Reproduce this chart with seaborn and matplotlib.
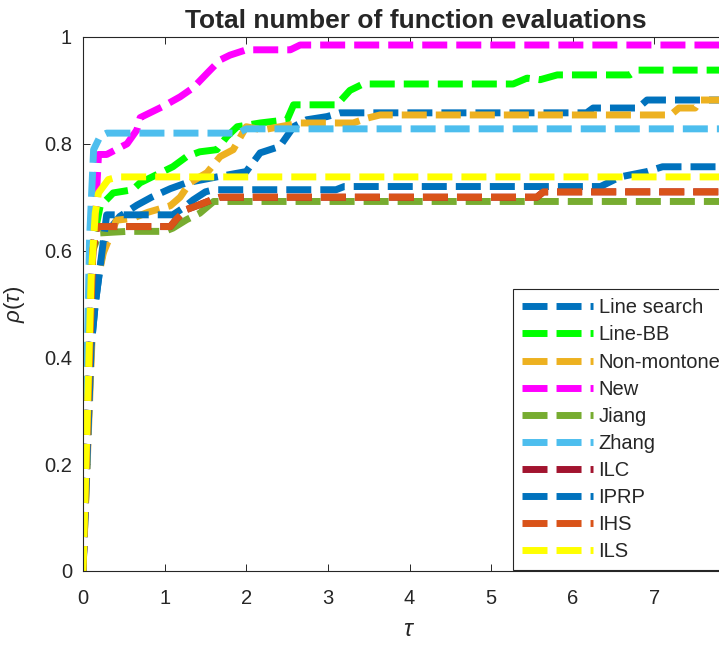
import matplotlib
matplotlib.use("Agg")
import matplotlib.pyplot as plt
import pandas as pd
import seaborn as sns

# performance-profile data
labels = ["Line search", "Line-BB", "Non-montone", "New", "Jiang",
          "Zhang", "ILC", "IPRP", "IHS", "ILS"]
colors = ["#0072BD", "#00FF00", "#EDB120", "#FF00FF", "#77AC30",
          "#4DBEEE", "#A2142F", "#0072BD", "#D95319", "#FFFF00"]

tau_line_search = [0, 0.1, 0.15, 0.21, 0.29, 0.45, 0.66, 0.84, 1.07, 1.27, 1.64, 2.0,
                   2.17, 2.41, 2.58, 2.74, 2.99, 3.15, 6.17, 6.25, 6.8, 6.91, 8]
rho_line_search = [0, 0.42, 0.5, 0.57, 0.633, 0.664, 0.685, 0.70, 0.716, 0.727, 0.738, 0.748,
                   0.783, 0.795, 0.832, 0.845, 0.851, 0.858, 0.858, 0.867, 0.867, 0.882, 0.882]

tau_line_bb = [0, 0.1, 0.21, 0.37, 0.61, 0.7, 0.94, 1.1, 1.27, 1.43, 1.64, 1.76, 1.89,
               2.17, 2.5, 2.58, 3.11, 3.27, 3.43, 5.27, 5.44, 5.6, 5.81, 6.7, 6.79, 8]
rho_line_bb = [0, 0.6, 0.683, 0.708, 0.714, 0.727, 0.745, 0.757, 0.776, 0.785, 0.789, 0.813, 0.832,
               0.839, 0.845, 0.873, 0.873, 0.9, 0.912, 0.912, 0.923, 0.92, 0.929, 0.929, 0.938, 0.938]

tau_non_monotone = [0, 0.13, 0.25, 0.33, 0.41, 0.6, 0.8, 1.07, 1.19, 1.31, 1.52, 1.68, 1.84,
                    2.0, 2.2, 2.66, 3.31, 3.48, 3.64, 7.2, 7.3, 7.5, 7.56, 8]
rho_non_monotone = [0, 0.51, 0.596, 0.626, 0.657, 0.66, 0.672, 0.684, 0.70, 0.727, 0.746, 0.776, 0.789,
                    0.832, 0.826, 0.839, 0.839, 0.848, 0.854, 0.854, 0.867, 0.867, 0.882, 0.882]

tau_new = [0, 0.12, 0.17, 0.19, 0.29, 0.54, 0.66, 0.70, 0.98, 1.19, 1.35, 1.52, 1.68,
           1.8, 2.0, 2.54, 2.66, 8]
rho_new = [0, 0.6, 0.72, 0.78, 0.78, 0.80, 0.826, 0.849, 0.87, 0.888, 0.905, 0.932, 0.957,
           0.966, 0.976, 0.976, 0.985, 0.985]

tau_jiang = [0, 0.12, 0.2, 0.54, 1.0, 1.1, 1.27, 1.43, 1.6, 8]
rho_jiang = [0, 0.6, 0.633, 0.636, 0.636, 0.642, 0.658, 0.67, 0.692, 0.692]

tau_zhang = [0, 0.08, 0.13, 0.21, 0.29, 1.9, 2.0, 8]
rho_zhang = [0, 0.62, 0.789, 0.814, 0.82, 0.82, 0.828, 0.828]

tau_ilc = [0, 0.12, 0.17, 1.07, 1.15, 1.27, 1.43, 1.56, 1.68, 5.56, 5.64, 8]
rho_ilc = [0, 0.6, 0.645, 0.645, 0.66, 0.677, 0.686, 0.694, 0.70, 0.70, 0.71, 0.71]

tau_iprp = [0, 0.1, 0.15, 0.21, 0.29, 1.1, 1.23, 1.35, 1.5, 1.6, 3.1, 3.2,
            6.34, 6.58, 6.91, 7.1, 8]
rho_iprp = [0, 0.42, 0.5, 0.57, 0.667, 0.667, 0.68, 0.695, 0.71, 0.714, 0.714, 0.72,
            0.72, 0.738, 0.748, 0.757, 0.757]

tau_ihs = [0, 0.12, 0.17, 1.07, 1.15, 1.27, 1.43, 1.56, 1.68, 5.56, 5.64, 8]
rho_ihs = [0, 0.6, 0.645, 0.645, 0.66, 0.677, 0.686, 0.694, 0.70, 0.70, 0.71, 0.71]

tau_ils = [0, 0.1, 0.15, 0.19, 0.31, 0.43, 8]
rho_ils = [0, 0.55, 0.67, 0.708, 0.733, 0.738, 0.738]

series = [
    (tau_line_search, rho_line_search),
    (tau_line_bb, rho_line_bb),
    (tau_non_monotone, rho_non_monotone),
    (tau_new, rho_new),
    (tau_jiang, rho_jiang),
    (tau_zhang, rho_zhang),
    (tau_ilc, rho_ilc),
    (tau_iprp, rho_iprp),
    (tau_ihs, rho_ihs),
    (tau_ils, rho_ils),
]

sns.set_theme(style="ticks")
plt.rcParams["font.family"] = ["Liberation Sans", "DejaVu Sans"]
plt.rcParams["mathtext.fontset"] = "custom"
plt.rcParams["mathtext.it"] = "Liberation Sans:italic"
plt.rcParams["mathtext.rm"] = "Liberation Sans"

W, H = 719, 645
fig = plt.figure(figsize=(W / 100, H / 100), dpi=100)
ax = fig.add_axes([83 / W, (H - 571) / H, (736 - 83) / W, (571 - 37) / H])

dash = (0, (3.6, 1.3))
for (t, r), lab, col in zip(series, labels, colors):
    df = pd.DataFrame({"tau": t, "rho": r})
    sns.lineplot(data=df, x="tau", y="rho", ax=ax, color=col, lw=5,
                 linestyle=dash, sort=False, estimator=None, label=lab,
                 legend=False)

ax.set_xlim(0, 8)
ax.set_ylim(0, 1)
ax.set_xticks(range(0, 8))
ax.set_yticks([0, 0.2, 0.4, 0.6, 0.8, 1])
ax.set_yticklabels(["0", "0.2", "0.4", "0.6", "0.8", "1"])
ax.tick_params(direction="in", length=5, width=0.7, colors="#262626",
               labelsize=14.5, top=True, right=True)
ax.tick_params(axis="x", pad=13)
ax.tick_params(axis="y", pad=8)
for s in ax.spines.values():
    s.set_color("#262626")
    s.set_linewidth(0.8)
ax.set_xlabel(r"$\tau$", fontsize=17, color="#262626", labelpad=8)
ax.set_ylabel(r"$\rho(\tau)$", fontsize=16, color="#262626", labelpad=12)
fig.text(416 / W, 1 - 28 / H, "Total number of function evaluations",
         ha="center", va="baseline", fontsize=19, fontweight="bold")

handles, labs = ax.get_legend_handles_labels()
leg = ax.legend(handles, labs, loc="lower left",
                bbox_to_anchor=(513 / W, (H - 570) / H), bbox_transform=fig.transFigure,
                borderaxespad=0, fontsize=14.5, frameon=True, fancybox=False,
                framealpha=1, edgecolor="#262626", handlelength=3.5,
                handletextpad=0.3, labelspacing=0.4, borderpad=0.45)
leg.get_frame().set_linewidth(0.8)

fig.savefig("out.png", dpi=100)
